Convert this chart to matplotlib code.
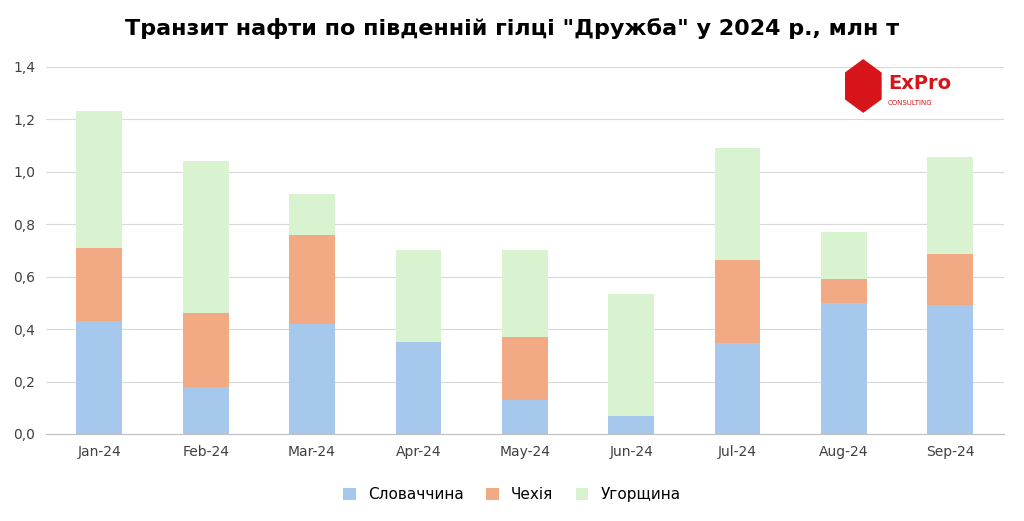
import matplotlib
matplotlib.use("Agg")
import matplotlib.pyplot as plt
from matplotlib.patches import RegularPolygon
import numpy as np

months = ["Jan-24","Feb-24","Mar-24","Apr-24","May-24","Jun-24","Jul-24","Aug-24","Sep-24"]
slovakia = [0.43,0.18,0.42,0.35,0.13,0.07,0.345,0.50,0.49]
czech_total = [0.71,0.46,0.76,0.35,0.37,0.07,0.665,0.59,0.685]
grand_total = [1.233,1.04,0.915,0.70,0.70,0.535,1.09,0.77,1.055]
czech = [c - s for c, s in zip(czech_total, slovakia)]
hungary = [g - c for g, c in zip(grand_total, czech_total)]
labels = ["Словаччина","Чехія","Угорщина"]
colors = ["#a6c8ec","#f2aa84","#d9f2d0"]

plt.rcParams['font.family'] = ['DejaVu Sans']
fig = plt.figure(figsize=(10.24,5.21), dpi=100)
ax = fig.add_axes([0.045,0.167,0.935,0.705])
x = np.arange(len(months))
w = 0.43
ax.bar(x, slovakia, w, color=colors[0], label=labels[0], zorder=3)
ax.bar(x, czech, w, bottom=slovakia, color=colors[1], label=labels[1], zorder=3)
ax.bar(x, hungary, w, bottom=czech_total, color=colors[2], label=labels[2], zorder=3)
ax.set_ylim(0,1.4)
ax.set_xlim(-0.5, len(months)-0.5)
yt = np.arange(0,1.41,0.2)
ax.set_yticks(yt)
ax.set_yticklabels([f"{v:.1f}".replace(".",",") for v in yt], fontsize=10, color="#404040")
ax.set_xticks(x)
ax.set_xticklabels(months, fontsize=10, color="#404040")
ax.yaxis.grid(True, color="#d9d9d9", lw=0.8, zorder=0)
for s in ["top","right","left"]:
    ax.spines[s].set_visible(False)
ax.spines["bottom"].set_color("#bfbfbf")
ax.tick_params(length=0, pad=8)
fig.text(0.5,0.945,'Транзит нафти по південній гілці "Дружба" у 2024 р., млн т',
         ha="center", va="center", fontsize=16, fontweight="bold")
fig.legend(loc="lower center", bbox_to_anchor=(0.5,0.01), ncol=3, frameon=False, fontsize=11,
           handlelength=0.8, handleheight=0.8, columnspacing=1.5)
# logo
la = fig.add_axes([0.825,0.78,0.16,0.11])
la.axis("off"); la.set_xlim(0,4); la.set_ylim(0,1.1)
la.add_patch(RegularPolygon((0.45,0.55),6,radius=0.5,color="#d7141a"))
la.text(1.05,0.6,"ExPro",fontsize=14,color="#d7141a",va="center",fontweight="bold")
la.text(1.05,0.22,"CONSULTING",fontsize=5,color="#d7141a",va="center")
fig.savefig("out.png", dpi=100)
